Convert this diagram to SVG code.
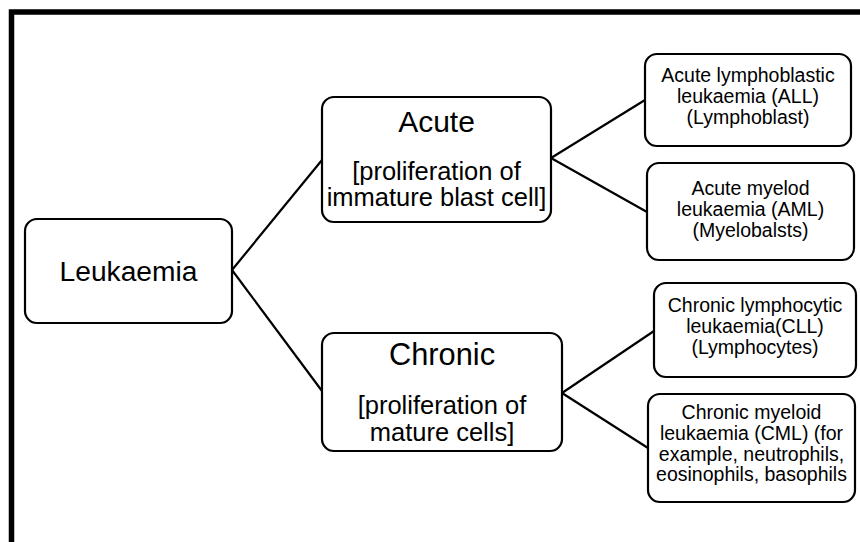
<svg xmlns="http://www.w3.org/2000/svg" width="860" height="542" viewBox="0 0 860 542">
<style>
  .box { fill: #ffffff; stroke: #000000; stroke-width: 2.2; }
  .conn { stroke: #000000; stroke-width: 2.2; fill: none; }
  text { font-family: "Liberation Sans", Arial, sans-serif; fill: #000000; text-anchor: middle; }
  .big { font-size: 30px; }
  .mid { font-size: 25.5px; }
  .small { font-size: 19.5px; }
</style>
<rect x="0" y="0" width="860" height="542" fill="#ffffff"/>
<rect x="11.5" y="12" width="900" height="600" fill="none" stroke="#000000" stroke-width="5.5"/>
<g id="connectors">
  <line class="conn" x1="232" y1="270" x2="322" y2="160"/>
  <line class="conn" x1="232" y1="270" x2="322" y2="391"/>
  <line class="conn" x1="551" y1="158" x2="645" y2="100"/>
  <line class="conn" x1="551" y1="158" x2="647" y2="212"/>
  <line class="conn" x1="562" y1="393" x2="654" y2="331"/>
  <line class="conn" x1="562" y1="393" x2="648" y2="448"/>
</g>
<g id="leukaemia">
  <rect class="box" x="25" y="219" width="207" height="104" rx="12"/>
  <text x="128.5" y="280.5" style="font-size:28.2px">Leukaemia</text>
</g>
<g id="acute">
  <rect class="box" x="322" y="97" width="229" height="125" rx="12"/>
  <text class="big" x="436.5" y="131.5">Acute</text>
  <text class="mid" x="436.5" y="179.5">[proliferation of</text>
  <text class="mid" x="436.5" y="205.5">immature blast cell]</text>
</g>
<g id="chronic">
  <rect class="box" x="322" y="333" width="240" height="118" rx="12"/>
  <text class="big" x="442" y="365" style="font-size:30.8px">Chronic</text>
  <text class="mid" x="442" y="414">[proliferation of</text>
  <text class="mid" x="442" y="440.5">mature cells]</text>
</g>
<g id="all">
  <rect class="box" x="645" y="54" width="206" height="92" rx="12"/>
  <text class="small" x="748" y="82.3">Acute lymphoblastic</text>
  <text class="small" x="748" y="103.3">leukaemia (ALL)</text>
  <text class="small" x="748" y="124">(Lymphoblast)</text>
</g>
<g id="aml">
  <rect class="box" x="647" y="163" width="207" height="97" rx="12"/>
  <text class="small" x="750.5" y="195">Acute myelod</text>
  <text class="small" x="750.5" y="215.7">leukaemia (AML)</text>
  <text class="small" x="750.5" y="236.5">(Myelobalsts)</text>
</g>
<g id="cll">
  <rect class="box" x="654" y="283" width="202" height="94" rx="12"/>
  <text class="small" x="755" y="311.7">Chronic lymphocytic</text>
  <text class="small" x="755" y="332.7">leukaemia(CLL)</text>
  <text class="small" x="755" y="354">(Lymphocytes)</text>
</g>
<g id="cml">
  <rect class="box" x="648" y="394" width="207" height="108" rx="12"/>
  <text class="small" x="751.5" y="419.3">Chronic myeloid</text>
  <text class="small" x="751.5" y="440">leukaemia (CML) (for</text>
  <text class="small" x="751.5" y="460.7">example, neutrophils,</text>
  <text class="small" x="751.5" y="480.7">eosinophils, basophils</text>
</g>
</svg>
